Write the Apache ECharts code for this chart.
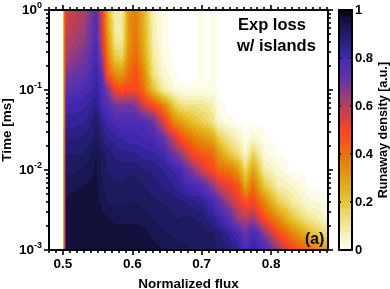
<!DOCTYPE html>
<html><head><meta charset="utf-8">
<style>html,body{margin:0;padding:0;background:#fff}#c{width:390px;height:289px}</style>
<script src="https://cdn.jsdelivr.net/npm/echarts@6/dist/echarts.min.js"></script>
</head><body><div id="c"></div>
<script>
const fluxes=[.5005,.502,.5045,.515,.53,.54,.548,.556,.565,.575,.585,.595,.605,.615,.63,.645,.66,.668,.676,.688,.70,.708,.716,.724,.74,.753,.763,.774,.79,.81,.83,.855,.882];
const times=[1,.631,.398,.251,.158,.1,.0631,.0398,.0251,.0158,.01,.00631,.00398,.00251,.00158,.001];
const t00=[.20,.38,.56,.58,.62,.68,.76,.55,.25,.08,.08,.33,.38,.27,.06,.01,0,0,0,0,.012,0,.012,0,0,0,0,0,0,0,0,0,0];
const t02=[.20,.38,.57,.60,.63,.69,.77,.57,.28,.09,.08,.33,.39,.28,.07,.01,0,0,0,0,.012,0,.012,0,0,0,0,0,0,0,0,0,0];
const t04=[.20,.38,.60,.62,.66,.71,.78,.60,.32,.12,.10,.33,.40,.29,.08,.01,0,0,0,0,.012,0,.012,0,0,0,0,0,0,0,0,0,0];
const t06=[.20,.38,.63,.66,.69,.74,.80,.66,.38,.20,.17,.36,.44,.32,.10,.02,0,0,0,0,.012,0,.012,0,0,0,0,0,0,0,0,0,0];
const t08=[.20,.38,.68,.71,.73,.78,.82,.74,.46,.34,.32,.42,.48,.38,.13,.04,.01,0,0,0,.012,0,.012,0,0,0,0,0,0,0,0,0,0];
const t10=[.20,.38,.75,.76,.78,.80,.84,.78,.68,.52,.48,.50,.50,.42,.22,.08,.03,.015,.008,.012,.015,.01,.015,0,0,0,0,0,0,0,0,0,0];
const t12=[.20,.38,.81,.81,.82,.84,.87,.80,.76,.70,.69,.70,.68,.58,.50,.38,.20,.14,.12,.12,.11,.10,.08,.015,0,0,0,0,0,0,0,0,0];
const t14=[.20,.38,.84,.84,.85,.87,.90,.85,.81,.79,.78,.78,.78,.77,.72,.55,.36,.32,.28,.22,.18,.15,.12,.04,.012,0,0,0,0,0,0,0,0];
const t16=[.20,.40,.87,.87,.88,.89,.92,.88,.85,.84,.82,.81,.81,.80,.79,.72,.57,.50,.44,.38,.33,.31,.28,.18,.10,.05,.01,.04,.01,0,0,0,0];
const t18=[.20,.40,.90,.90,.90,.92,.95,.92,.89,.87,.86,.86,.85,.84,.83,.81,.70,.66,.60,.50,.46,.44,.42,.33,.20,.14,.04,.17,.03,.005,0,0,0];
const t20=[.20,.42,.92,.92,.93,.94,.955,.92,.90,.89,.89,.895,.895,.88,.87,.85,.82,.81,.74,.66,.58,.52,.50,.42,.40,.30,.16,.30,.09,.03,0,0,0];
const t22=[.20,.42,.94,.945,.95,.955,.96,.93,.915,.905,.905,.91,.91,.90,.89,.87,.85,.83,.81,.78,.76,.72,.66,.58,.52,.47,.28,.42,.20,.08,.05,0,0];
const t24=[.20,.42,.955,.96,.96,.96,.96,.945,.925,.92,.92,.925,.925,.915,.905,.90,.895,.885,.875,.86,.85,.82,.80,.74,.62,.54,.48,.50,.36,.18,.10,.03,.02];
const t26=[.20,.42,.96,.96,.96,.96,.96,.96,.95,.945,.945,.945,.945,.94,.925,.91,.90,.90,.905,.90,.895,.87,.85,.82,.75,.63,.60,.64,.48,.34,.20,.10,.04];
const t28=[.20,.42,.96,.96,.96,.96,.96,.96,.96,.96,.96,.96,.96,.96,.945,.93,.92,.92,.92,.915,.91,.91,.905,.89,.84,.80,.72,.80,.68,.50,.38,.24,.13];
const t30=[.20,.42,.96,.96,.96,.96,.96,.96,.96,.96,.96,.96,.96,.96,.96,.95,.94,.93,.93,.92,.92,.91,.91,.90,.88,.84,.78,.84,.80,.65,.50,.42,.30];
const densityRows=[t00,t02,t04,t06,t08,t10,t12,t14,t16,t18,t20,t22,t24,t26,t28,t30];
const xMajorTicks=[.5,.6,.7,.8];
const xMinorTicks=[.48,.49,.51,.52,.53,.54,.55,.56,.57,.58,.59,.61,.62,.63,.64,.65,.66,.67,.68,.69,.71,.72,.73,.74,.75,.76,.77,.78,.79,.81,.82,.83,.84,.85,.86,.87,.88];
const yMajorTicks=[.001,.01,.1,1];
const yMinorTicks=[.002,.003,.004,.005,.006,.007,.008,.009,.02,.03,.04,.05,.06,.07,.08,.09,.2,.3,.4,.5,.6,.7,.8,.9];
const colorValues=[0,.05,.1,.15,.2,.25,.3,.35,.4,.45,.5,.55,.6,.65,.7,.75,.8,.85,.9,.95,1];
const colorHex=['#fffff4','#f8f4c8','#f2e89c','#ecd968','#e8c83a','#e3b41c','#e2a014','#e58a0c','#ea7408','#f55a14','#fb4420','#dd4040','#b84058','#953c80','#6e35a0','#5630b0','#4428b4','#2f2290','#1f1d66','#15154a','#050510'];
const bandCount=40;

const hex=h=>[1,3,5].map(i=>parseInt(h.substr(i,2),16));
function colorOf(v){
  const q=Math.min(bandCount-1,Math.floor(v*bandCount));
  const u=(q+.5)/bandCount;
  let k=Math.min(colorValues.length-2,Math.floor(u/.05));
  const f=(u-colorValues[k])/(colorValues[k+1]-colorValues[k]);
  const a=hex(colorHex[k]),b=hex(colorHex[k+1]);
  return 'rgb('+a.map((c,i)=>Math.round(c+(b[i]-c)*f)).join(',')+')';
}
const cells=[];
for(let j=0;j<times.length-1;j++)for(let i=0;i<fluxes.length-1;i++)cells.push([fluxes[i],times[j],i,j]);
function renderCell(params,api){
  const i=api.value(2),j=api.value(3);
  const p0=api.coord([fluxes[i],times[j]]),p1=api.coord([fluxes[i+1],times[j+1]]);
  const x0=p0[0],y0=p0[1],x1=p1[0],y1=p1[1];
  const a=densityRows[j][i],b=densityRows[j][i+1],c=densityRows[j+1][i],d=densityRows[j+1][i+1];
  const children=[];
  const xa=Math.round(x0),xb=Math.round(x1),ya=Math.round(y0),yb=Math.round(y1);
  for(let py=ya;py<yb;py+=2){
    const h=Math.min(2,yb-py);
    const v=(py+h/2-y0)/(y1-y0);
    for(let px=xa;px<xb;px++){
      const u=Math.max(0,Math.min(1,(px+.5-x0)/(x1-x0)));
      const val=(a*(1-u)+b*u)*(1-v)+(c*(1-u)+d*u)*v;
      if(val<.006)continue;
      children.push({type:'rect',silent:true,shape:{x:px,y:py,width:1,height:h},style:{fill:colorOf(val)}});
    }
  }
  return {type:'group',children};
}
const bandList=[];for(let k=0;k<bandCount;k++)bandList.push([0,k/bandCount,k]);
function renderBand(params,api){
  const k=api.value(2);
  const p0=api.coord([0,k/bandCount]),p1=api.coord([1,(k+1)/bandCount]);
  return {type:'rect',silent:true,shape:{x:p0[0],y:p1[1],width:p1[0]-p0[0],height:p0[1]-p1[1]+.5},style:{fill:colorOf((k+.5)/bandCount)}};
}
const font='"Liberation Sans",Arial,sans-serif';
const line={show:true,onZero:false,lineStyle:{color:'#000',width:2}};
const xA=(pos,ticks,len,extra)=>Object.assign({type:'value',gridIndex:0,position:pos,min:.48,max:.882,z:10,splitLine:{show:false},axisLine:line,
  axisTick:{show:true,customValues:ticks,length:len,lineStyle:{color:'#000',width:1.6}},axisLabel:{show:false}},extra||{});
const yA=(pos,ticks,len,extra)=>Object.assign({type:'log',logBase:10,gridIndex:0,position:pos,min:.001,max:1,z:10,splitLine:{show:false},axisLine:line,
  axisTick:{show:true,customValues:ticks,length:len,lineStyle:{color:'#000',width:1.6}},axisLabel:{show:false}},extra||{});
const barX=pos=>({type:'value',gridIndex:1,position:pos,min:0,max:1,z:10,splitLine:{show:false},axisLine:line,axisTick:{show:false},axisLabel:{show:false}});
const barY=(pos,extra)=>Object.assign({type:'value',gridIndex:1,position:pos,min:0,max:1,interval:.2,z:10,splitLine:{show:false},axisLine:line,
  axisTick:{show:true,inside:true,length:2,lineStyle:{color:'#000',width:1.6}},axisLabel:{show:false}},extra||{});
const chart=echarts.init(document.getElementById('c'),null,{renderer:'canvas'});
chart.setOption({
  animation:false,backgroundColor:'#fff',
  textStyle:{fontFamily:font},
  grid:[{left:49,top:10,width:279,height:240,show:false,outerBoundsMode:'none'},{left:339,top:10,width:13,height:240,show:false,outerBoundsMode:'none'}],
  xAxis:[
    xA('bottom',xMajorTicks,5,{name:'Normalized flux',nameLocation:'middle',nameGap:27,nameMoveOverlap:false,nameTextStyle:{fontFamily:font,fontWeight:'bold',fontSize:13.5,color:'#000'},
      axisLabel:{show:true,customValues:xMajorTicks,margin:7,color:'#000',fontFamily:font,fontWeight:'bold',fontSize:13.5,formatter:v=>(+v).toFixed(1)}}),
    xA('bottom',xMinorTicks,3),
    xA('top',xMajorTicks,5),
    xA('top',xMinorTicks,3),
    barX('bottom'),barX('top')
  ],
  yAxis:[
    yA('left',yMajorTicks,5,{name:'Time [ms]',nameLocation:'middle',nameGap:35,nameMoveOverlap:false,nameTextStyle:{fontFamily:font,fontWeight:'bold',fontSize:13.5,color:'#000'},
      axisLabel:{show:true,customValues:yMajorTicks,margin:7,color:'#000',fontFamily:font,fontWeight:'bold',
        formatter:v=>'{a|10}{b|'+Math.round(Math.log10(v))+'}',
        rich:{a:{fontFamily:font,fontWeight:'bold',fontSize:13.5,color:'#000'},b:{fontFamily:font,fontWeight:'bold',fontSize:9,color:'#000',padding:[0,0,8,0]}}}}),
    yA('left',yMinorTicks,3),
    yA('right',yMajorTicks,5),
    yA('right',yMinorTicks,3),
    barY('right',{name:'Runaway density [a.u.]',nameLocation:'middle',nameGap:25,nameMoveOverlap:false,nameRotate:90,nameTextStyle:{fontFamily:font,fontWeight:'bold',fontSize:12.6,color:'#000'},
      axisLabel:{show:true,margin:3,color:'#000',fontFamily:font,fontWeight:'bold',fontSize:13}}),
    barY('left')
  ],
  series:[
    {type:'custom',xAxisIndex:0,yAxisIndex:0,coordinateSystem:'cartesian2d',data:cells,encode:{x:0,y:1},renderItem:renderCell,silent:true,clip:false},
    {type:'custom',xAxisIndex:4,yAxisIndex:4,coordinateSystem:'cartesian2d',data:bandList,encode:{x:0,y:1},renderItem:renderBand,silent:true}
  ],
  graphic:[
    {type:'text',z:20,left:238,top:17,style:{text:'Exp loss',fontFamily:font,fontWeight:'bold',fontSize:16.5,fill:'#000'}},
    {type:'text',z:20,left:237,top:38,style:{text:'w/ islands',fontFamily:font,fontWeight:'bold',fontSize:16.5,fill:'#000'}},
    {type:'text',z:20,left:305,top:232,style:{text:'(a)',fontFamily:font,fontWeight:'bold',fontSize:15.7,fill:'#000'}}
  ]
});
</script></body></html>
